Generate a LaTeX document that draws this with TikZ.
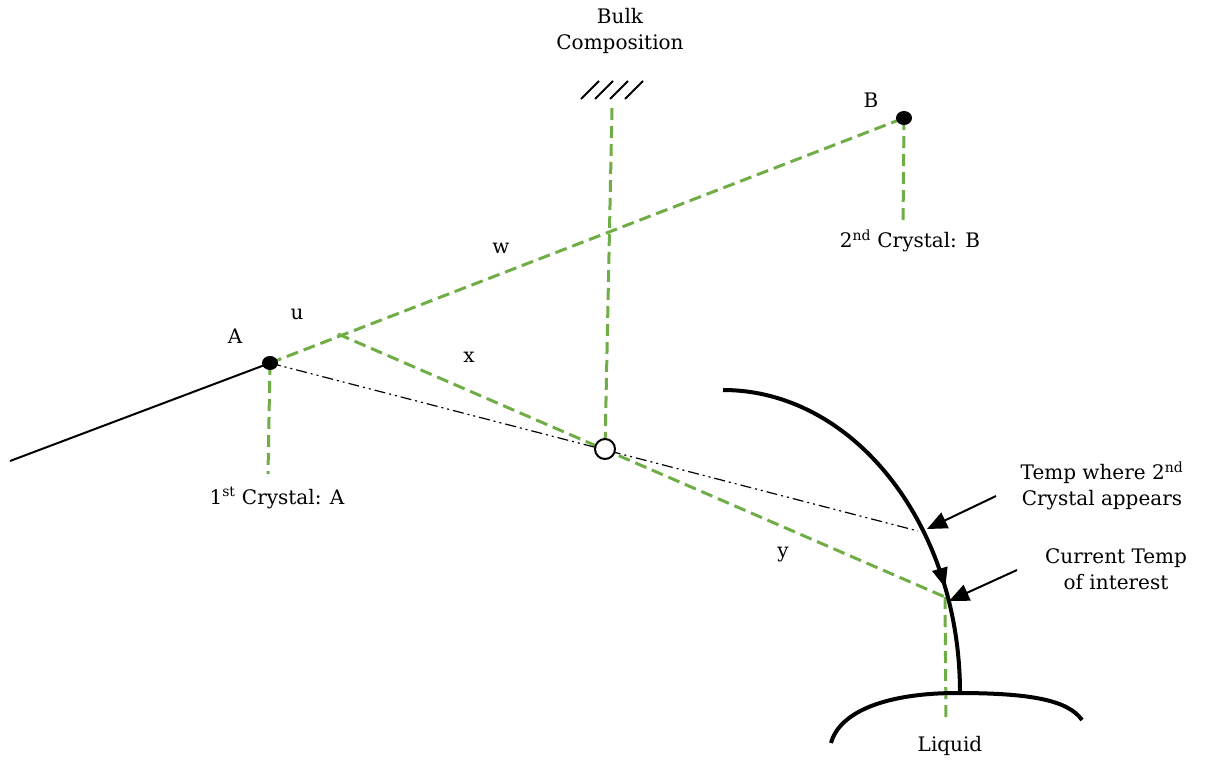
\documentclass[tikz,border=0pt]{standalone}
\usepackage{fontspec}
\setmainfont{DejaVu Serif}
\usetikzlibrary{arrows.meta,decorations.markings}
\definecolor{lgreen}{HTML}{70AD47}
\tikzset{
  gdash/.style={draw=lgreen, line width=3pt, dash pattern=on 12pt off 6pt},
  ddot/.style={draw=black, line width=1.2pt, dash pattern=on 11pt off 4pt on 2pt off 4pt on 2pt off 4pt},
  lbl/.style={font=\fontsize{20}{26}\selectfont, inner sep=0pt, align=center},
  pointer/.style={-{Triangle[length=20pt,width=17pt]}, line width=2pt},
}
\begin{document}
\begin{tikzpicture}[x=1pt,y=-1pt]
\useasboundingbox (0,0) rectangle (1207,764);
% key points
\coordinate (L) at (10,461);
\coordinate (A) at (270,363);
\coordinate (B) at (904,118);
\coordinate (Abot) at (268,474);
\coordinate (Bbot) at (903,225);
\coordinate (U) at (338,334);
\coordinate (C) at (605,449);
\coordinate (Ctop) at (612,108);
\coordinate (Y) at (945,597);
\coordinate (Ybot) at (946,721);
\coordinate (T2) at (918,531);
\coordinate (Arcs) at (723,390);
% left solid line
\draw[line width=2pt] (L) -- (A);
% green dashed lines
\draw[gdash] (A) -- (B);
\draw[gdash] (A) -- (Abot);
\draw[gdash] (B) -- (Bbot);
\draw[gdash] (Ctop) -- (C);
\draw[gdash] (U) -- (Y);
\draw[gdash] (Y) -- (Ybot);
% dash dot dot line
\draw[ddot] (A) -- (T2);
% hatch
\foreach \s in {581,595,610,625}
  \draw[line width=2pt] (\s,99) -- ++(18,-18);
% cooling curve
\draw[line width=4pt,
  postaction={decorate},
  decoration={markings, mark=at position 0.75 with {\arrow{Triangle[length=20pt,width=15pt]}}}]
  (Arcs) arc[start angle=-90, end angle=0, x radius=237, y radius=303];
% liquid curve
\draw[line width=4pt] (831,743) .. controls (840,710) and (890,693) .. (957,693)
  .. controls (1030,693) and (1068,700) .. (1082,720);
% points
\fill (A) ellipse[x radius=8, y radius=7];
\fill (B) ellipse[x radius=8, y radius=7];
\draw[line width=2pt, fill=white] (C) circle[radius=10];
% arrows
\coordinate (P1) at (996,496);
\coordinate (P1t) at (927,529);
\coordinate (P2) at (1017,570);
\coordinate (P2t) at (949,601);
\draw[pointer] (P1) -- (P1t);
\draw[pointer] (P2) -- (P2t);
% labels
\node[lbl] (bulk) at (620,31) {Bulk\\Composition};
\node[lbl] (la) at (235,336) {A};
\node[lbl] (lb) at (871,100) {B};
\node[lbl] (lu) at (297,314) {u};
\node[lbl] (lw) at (501,248) {w};
\node[lbl] (lx) at (469,357) {x};
\node[lbl] (ly) at (783,555) {y};
\node[lbl] (c1) at (277,498) {1\textsuperscript{st} Crystal: A};
\node[lbl] (c2) at (910,241) {2\textsuperscript{nd} Crystal: B};
\node[lbl] (t2) at (1102,486) {Temp where 2\textsuperscript{nd}\\Crystal appears};
\node[lbl] (ct) at (1116,569) {Current Temp\\of interest};
\node[lbl] (liq) at (950,746) {Liquid};
\end{tikzpicture}
\end{document}
